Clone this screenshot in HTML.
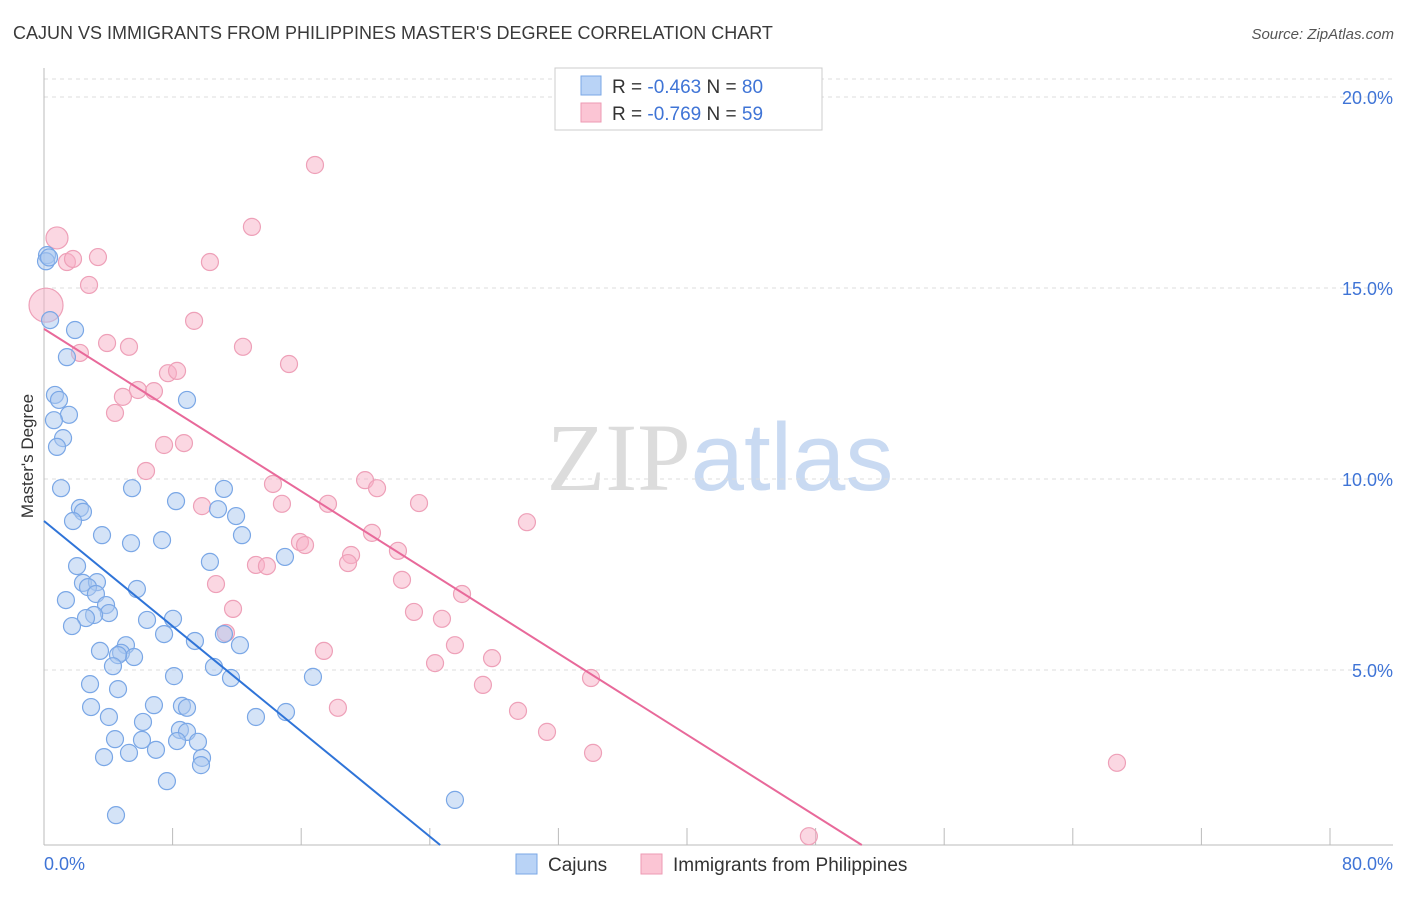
<!DOCTYPE html>
<html><head><meta charset="utf-8"><style>
body{margin:0;background:#fff;font-family:"Liberation Sans",sans-serif;}
svg text{font-family:"Liberation Sans",sans-serif;}
</style></head><body>
<svg id="chart" width="1406" height="892" xmlns="http://www.w3.org/2000/svg">
<text x="13" y="39" font-size="18" fill="#3a3a3a">CAJUN VS IMMIGRANTS FROM PHILIPPINES MASTER'S DEGREE CORRELATION CHART</text>
<text x="1394" y="39" font-size="15" fill="#555" text-anchor="end" font-style="italic">Source: ZipAtlas.com</text>
<text x="720" y="490" font-size="96" text-anchor="middle"><tspan fill="#dcdcdc" font-family="Liberation Serif">ZIP</tspan><tspan fill="#c9daf2">atlas</tspan></text>
<g id="grid"></g>
<g id="axes"></g>
<g id="pts"></g>
<g id="trends"></g>
<text transform="translate(33,456) rotate(-90)" font-size="17" fill="#333" text-anchor="middle">Master's Degree</text>
<g>
<rect x="555" y="68" width="267" height="62" fill="#fff" stroke="#ccc"/>
<rect x="581" y="76" width="20" height="19" fill="#b9d3f6" stroke="#7aa7e6"/>
<rect x="581" y="103" width="20" height="19" fill="#fbc5d4" stroke="#ee9ab3"/>
<text x="612" y="93" font-size="19" fill="#333">R = <tspan fill="#3f74d6">-0.463</tspan>   N = <tspan fill="#3f74d6">80</tspan></text>
<text x="612" y="120" font-size="19" fill="#333">R = <tspan fill="#3f74d6">-0.769</tspan>   N = <tspan fill="#3f74d6"> 59</tspan></text>
</g>
<g>
<rect x="516" y="854" width="21" height="20" fill="#b9d3f6" stroke="#7aa7e6"/>
<text x="548" y="871" font-size="19" fill="#333">Cajuns</text>
<rect x="641" y="854" width="21" height="20" fill="#fbc5d4" stroke="#ee9ab3"/>
<text x="673" y="871" font-size="19" fill="#333">Immigrants from Philippines</text>
</g>
</svg>
<script>
const blueX=[0.18,0.36,1.84,1.36,0.65,0.89,1.48,0.59,1.13,0.77,1.01,2.13,2.31,1.72,3.44,5.16,7.0,1.96,2.31,3.14,2.61,3.08,1.3,3.68,3.85,2.97,2.49,1.66,5.51,6.11,7.65,7.12,4.86,3.32,4.57,5.34,4.39,4.09,8.95,10.08,11.62,11.09,2.73,4.39,7.71,6.52,8.18,8.48,2.79,3.85,5.87,8.06,8.48,7.89,9.13,4.21,5.81,6.64,5.04,3.56,9.37,9.31,7.29,4.27,5.22,7.83,10.32,10.67,11.39,11.74,9.84,14.29,8.48,15.95,12.57,14.35,24.37,10.67,0.12,0.3];
const blueY=[15.86,14.16,13.9,13.19,12.2,12.07,11.68,11.54,11.07,10.84,9.76,9.24,9.14,8.9,8.53,8.32,8.4,7.72,7.28,7.3,7.17,6.99,6.83,6.7,6.49,6.44,6.36,6.15,7.12,6.31,6.34,5.94,5.65,5.5,5.45,5.34,5.39,5.1,5.76,5.08,5.65,4.79,4.63,4.5,4.84,4.08,4.06,4.01,4.03,3.77,3.64,3.43,3.38,3.14,3.12,3.19,3.17,2.91,2.83,2.72,2.7,2.51,2.09,1.2,9.76,9.42,9.21,9.74,9.03,8.53,7.83,7.96,12.07,4.82,3.77,3.9,1.6,5.94,15.7,15.8];
const pinkX=[0.77,0.12,1.36,1.72,3.2,2.67,2.13,3.74,5.04,4.21,4.68,5.57,6.52,7.35,7.89,8.9,9.84,12.33,16.07,11.8,14.53,6.05,7.12,8.3,9.37,10.2,11.21,10.79,12.57,13.22,13.58,14.11,15.18,15.48,16.84,19.04,19.75,19.45,18.21,18.03,20.99,21.23,22.24,28.64,21.94,23.6,24.79,24.37,23.19,26.57,26.03,28.11,29.83,32.56,32.44,63.63,45.36,16.6,17.43];
const pinkY=[16.31,14.55,15.68,15.76,15.81,15.08,13.3,13.56,13.46,11.73,12.15,12.33,12.3,12.77,12.83,14.14,15.68,16.6,18.22,13.46,13.01,10.21,10.89,10.94,9.29,7.25,6.6,5.97,7.75,7.72,9.87,9.35,8.35,8.27,9.35,9.97,9.76,8.59,8.01,7.8,8.12,7.36,9.37,8.87,6.52,6.34,6.99,5.65,5.18,5.31,4.61,3.93,3.38,2.83,4.79,2.57,0.65,5.5,4.01];
const trendBlue=[8.9,-0.361];
const trendPink=[13.93,-0.2786];
const yTicks=[5,10,15,20];
const xTickLabels=["0.0%","80.0%"];
const NS="http://www.w3.org/2000/svg";
const L=44,R=1393,B=845,T=79;
function sx(v){return L+(v/80)*(R-L);}
function sy(v){return 861-v*38.2;}
function mk(tag,attrs,parent){const e=document.createElementNS(NS,tag);for(const k in attrs)e.setAttribute(k,attrs[k]);parent.appendChild(e);return e;}
const grid=document.getElementById('grid'),axes=document.getElementById('axes');
let gl=mk('line',{x1:L,x2:R,y1:T,y2:T,stroke:'#ddd','stroke-dasharray':'4,4'},grid);


yTicks.forEach(t=>{
 const l=mk('line',{x1:L,x2:R,y1:sy(t),y2:sy(t),stroke:'#ddd','stroke-dasharray':'4,4'},grid);
 
 
 const tx=mk('text',{x:1393,y:sy(t)+7,'font-size':18,fill:'#3f74d6','text-anchor':'end'},axes);
 tx.textContent=t.toFixed(1)+'%';
 
 
});
let ax=mk('line',{x1:L,x2:L,y1:68,y2:B,stroke:'#bbb'},axes);


let bx=mk('line',{x1:L,x2:R,y1:B,y2:B,stroke:'#bbb'},axes);


for(let k=0;k<=10;k++){
 const x=L+k*128.6;
 const t=mk('line',{x1:x,x2:x,y1:B-17,y2:B,stroke:'#bbb'},axes);
 
 
}
const xl0=mk('text',{x:44,y:870,'font-size':18,fill:'#3f74d6'},axes);xl0.textContent=xTickLabels[0];


const xl1=mk('text',{x:1393,y:870,'font-size':18,fill:'#3f74d6','text-anchor':'end'},axes);xl1.textContent=xTickLabels[1];


const pts=document.getElementById('pts');
pinkX.forEach((x,i)=>{
 const r=i===1?17:(i===0?11:8.5);
 const c=mk('circle',{cx:sx(x),cy:sy(pinkY[i]),r:r,fill:'rgba(248,176,198,0.5)',stroke:'#eea0b8','stroke-width':1.2},pts);
 
 
});
blueX.forEach((x,i)=>{
 const c=mk('circle',{cx:sx(x),cy:sy(blueY[i]),r:8.5,fill:'rgba(170,200,240,0.5)',stroke:'#7aa7e6','stroke-width':1.2},pts);
 
 
});
const tr=document.getElementById('trends');
function trend(p,col,name){
 const x1=(p[0]-(861-B)/38.2)/(-p[1]);
 const l=mk('line',{x1:sx(0),y1:sy(p[0]),x2:sx(x1),y2:sy(p[0]+p[1]*x1),stroke:col,'stroke-width':2},tr);
 
 
}
trend(trendBlue,'#2f74d8','trend-line-cajuns');
trend(trendPink,'#e8699a','trend-line-philippines');
</script>
</body></html>
